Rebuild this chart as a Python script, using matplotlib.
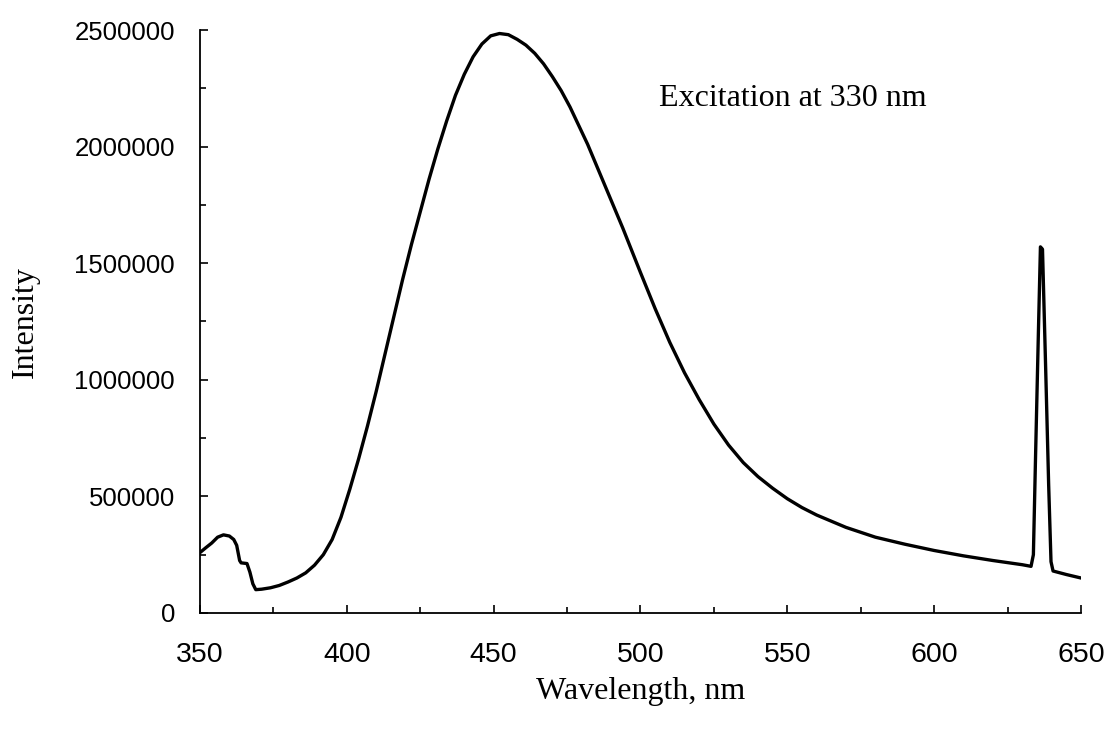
import matplotlib.pyplot as plt
from matplotlib.ticker import MultipleLocator

# emission spectrum (wavelength in nm, intensity in counts)
wavelength = [350, 352, 354, 356, 358, 360, 361.5, 362.5, 363.5, 364, 366, 367, 368, 369,
              371, 374, 377, 380, 383, 386, 389, 392, 395, 398, 401, 404, 407, 410, 413,
              416, 419, 422, 425, 428, 431, 434, 437, 440, 443, 446, 449, 452, 455, 458,
              461, 464, 467, 470, 473, 476, 479, 482, 485, 488, 491, 494, 497, 500, 505,
              510, 515, 520, 525, 530, 535, 540, 545, 550, 555, 560, 570, 580, 590, 600,
              610, 620, 630, 633, 633.8, 634.5, 635.5, 636.2, 636.9, 638, 639, 639.8,
              640.5, 645, 650]
intensity = [259000, 280000, 300000, 325000, 335000, 330000, 315000, 290000, 225000, 215000,
             212000, 175000, 125000, 100000, 102000, 108000, 118000, 133000, 150000, 172000,
             205000, 250000, 315000, 410000, 530000, 660000, 800000, 950000, 1110000,
             1270000, 1430000, 1580000, 1720000, 1860000, 1990000, 2110000, 2220000, 2310000,
             2385000, 2440000, 2475000, 2485000, 2480000, 2460000, 2435000, 2400000, 2355000,
             2300000, 2240000, 2170000, 2090000, 2010000, 1920000, 1830000, 1740000, 1650000,
             1555000, 1460000, 1305000, 1160000, 1030000, 915000, 810000, 720000, 645000,
             585000, 535000, 490000, 452000, 420000, 367000, 325000, 295000, 268000, 245000,
             225000, 207000, 200000, 250000, 650000, 1200000, 1570000, 1560000, 1040000,
             550000, 220000, 180000, 165000, 150000]

x_ticks = [350, 400, 450, 500, 550, 600, 650]
y_ticks = [0, 500000, 1000000, 1500000, 2000000, 2500000]

sans = ['Liberation Sans', 'DejaVu Sans']
serif = ['Liberation Serif', 'DejaVu Serif']

fig = plt.figure(figsize=(11.16, 7.32), dpi=100)
ax = fig.add_axes([0.1792, 0.1626, 0.7894, 0.7964])

ax.plot(wavelength, intensity, color='black', lw=2.4)

ax.set_xlim(350, 650)
ax.set_ylim(0, 2500000)
ax.set_xticks(x_ticks)
ax.set_yticks(y_ticks)
ax.set_xticklabels([str(v) for v in x_ticks])
ax.set_yticklabels([str(v) for v in y_ticks])
ax.xaxis.set_minor_locator(MultipleLocator(25))
ax.yaxis.set_minor_locator(MultipleLocator(250000))

for side in ['top', 'right']:
    ax.spines[side].set_visible(False)
for side in ['left', 'bottom']:
    ax.spines[side].set_linewidth(1.3)

ax.tick_params(which='both', direction='in', width=1.2, colors='black')
ax.tick_params(which='major', length=6)
ax.tick_params(which='minor', length=4.5)
ax.tick_params(axis='x', pad=21)
ax.tick_params(axis='y', pad=18)
for lab in ax.get_xticklabels():
    lab.set_family(sans)
    lab.set_fontsize(20.5)
for lab in ax.get_yticklabels():
    lab.set_family(sans)
    lab.set_fontsize(18.5)

# axis titles and note, placed like the scanned figure
fig.text(641 / 1116, 1 - 692 / 732, 'Wavelength, nm', family=serif, fontsize=23,
         ha='center', va='center')
fig.text(25 / 1116, 1 - 322 / 732, 'Intensity', family=serif, fontsize=23,
         ha='center', va='center', rotation=90)
ax.text(506.3, 2175000, 'Excitation at 330 nm', family=serif, fontsize=23,
        ha='left', va='baseline')

fig.savefig('out.png', dpi=100)
